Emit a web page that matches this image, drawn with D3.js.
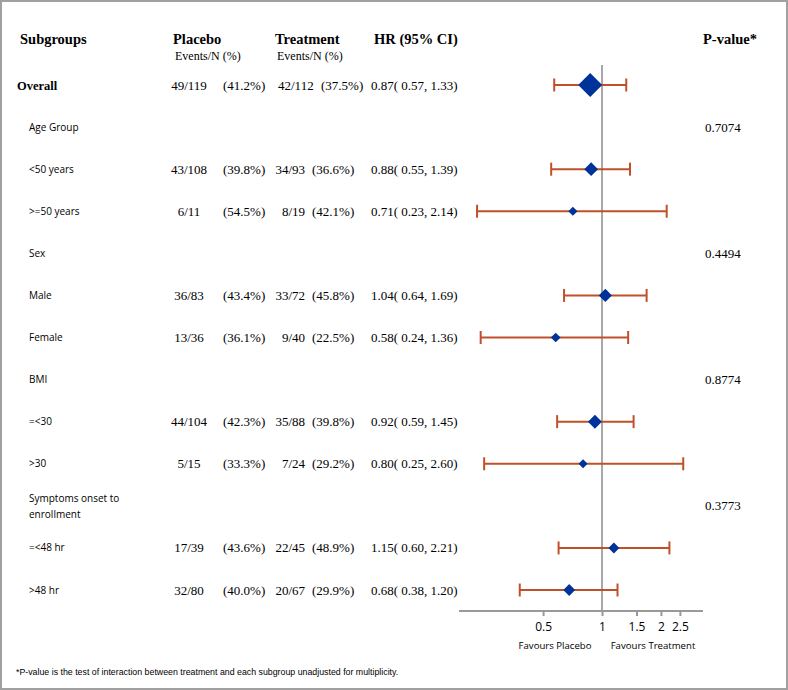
<!DOCTYPE html>
<html><head><meta charset="utf-8">
<script src="https://cdn.jsdelivr.net/npm/d3@7"></script>
<style>body{margin:0;background:#fff}svg{display:block}</style>
</head><body><div id="chart"></div>
<script>
// ---------- data ----------
const labels = ["Overall","Age Group","<50 years",">=50 years","Sex","Male","Female","BMI","=<30",">30","Symptoms onset to|enrollment","=<48 hr",">48 hr"];
const rowType = ["overall","group","sub","sub","group","sub","sub","group","sub","sub","group","sub","sub"];
const placeboEvents = [49,null,43,6,null,36,13,null,44,5,null,17,32];
const placeboN      = [119,null,108,11,null,83,36,null,104,15,null,39,80];
const placeboPct    = ["41.2",null,"39.8","54.5",null,"43.4","36.1",null,"42.3","33.3",null,"43.6","40.0"];
const treatEvents   = [42,null,34,8,null,33,9,null,35,7,null,22,20];
const treatN        = [112,null,93,19,null,72,40,null,88,24,null,45,67];
const treatPct      = ["37.5",null,"36.6","42.1",null,"45.8","22.5",null,"39.8","29.2",null,"48.9","29.9"];
const hr            = [0.87,null,0.88,0.71,null,1.04,0.58,null,0.92,0.80,null,1.15,0.68];
const ciLow         = [0.57,null,0.55,0.23,null,0.64,0.24,null,0.59,0.25,null,0.60,0.38];
const ciHigh        = [1.33,null,1.39,2.14,null,1.69,1.36,null,1.45,2.60,null,2.21,1.20];
const pValues       = [null,"0.7074",null,null,"0.4494",null,null,"0.8774",null,null,"0.3773",null,null];
const xTicks        = [0.5,1,1.5,2,2.5];
const footnote = "*P-value is the test of interaction between treatment and each subgroup unadjusted for multiplicity.";

// ---------- layout ----------
const W = 788, H = 690;
const serif = "'Liberation Serif','Times New Roman',serif";
const sans = "'Open Sans',Tahoma,sans-serif";
const arial = "'Liberation Sans',Arial,sans-serif";
const svg = d3.select("#chart").append("svg").attr("width",W).attr("height",H);

svg.append("rect").attr("x",1).attr("y",1).attr("width",W-2).attr("height",H-2)
  .attr("fill","#fff").attr("stroke","#a0a0a0").attr("stroke-width",2);

const y = d3.scalePoint().domain(d3.range(labels.length)).range([85, 590]);
const x = d3.scaleLog().domain([0.186, 3.28]).range([459, 703]);

// headers
const hdr = [["Subgroups",20],["Placebo",173],["Treatment",275],["HR (95% CI)",374],["P-value*",703]];
svg.selectAll(".hdr").data(hdr).join("text").attr("x",d=>d[1]).attr("y",44)
  .attr("font-family",serif).attr("font-weight","bold").attr("font-size",14.5).text(d=>d[0]);
svg.selectAll(".sub").data([175,277]).join("text").attr("x",d=>d).attr("y",60)
  .attr("font-family",serif).attr("font-size",12).text("Events/N (%)");

// rows
labels.forEach((lab,i)=>{
  const cy = y(i), t = rowType[i];
  if (t==="overall"){
    svg.append("text").attr("x",17).attr("y",cy+4.5).attr("font-family",serif).attr("font-weight","bold").attr("font-size",12.5).text(lab);
  } else {
    const parts = lab.split("|");
    const y0 = parts.length>1 ? cy-4 : cy+3.5;
    parts.forEach((p,k)=>svg.append("text").attr("x",29).attr("y",y0+k*16).attr("font-family",sans).attr("font-size",10).text(p));
  }
  if (placeboEvents[i]!=null){
    const g = svg.append("g").attr("font-family",serif).attr("font-size",13);
    const by = cy+4.5;
    g.append("text").attr("x",189).attr("y",by).attr("text-anchor","middle").text(placeboEvents[i]+"/"+placeboN[i]);
    g.append("text").attr("x",223).attr("y",by).text("("+placeboPct[i]+"%)");
    if (t==="overall"){
      g.append("text").attr("x",278).attr("y",by).text(treatEvents[i]+"/"+treatN[i]);
      g.append("text").attr("x",321).attr("y",by).text("("+treatPct[i]+"%)");
    } else {
      g.append("text").attr("x",305).attr("y",by).attr("text-anchor","end").text(treatEvents[i]+"/"+treatN[i]);
      g.append("text").attr("x",312).attr("y",by).text("("+treatPct[i]+"%)");
    }
    g.append("text").attr("x",371).attr("y",by)
      .text(hr[i].toFixed(2)+"( "+ciLow[i].toFixed(2)+", "+ciHigh[i].toFixed(2)+")");
  }
  if (pValues[i]!=null){
    svg.append("text").attr("x",705).attr("y",cy+4.5).attr("font-family",serif).attr("font-size",13).text(pValues[i]);
  }
});

// reference line
svg.append("line").attr("x1",x(1)).attr("x2",x(1)).attr("y1",65).attr("y2",611)
  .attr("stroke","#a8a8a8").attr("stroke-width",2);

// CIs and diamonds
const sizeScale = d3.scaleLinear().domain([12,80]).range([4.5,7]);
const idx = d3.range(labels.length).filter(i=>hr[i]!=null);
const ciCol = "#c0502a", dCol = "#003399";
idx.forEach(i=>{
  const cy = y(i);
  const g = svg.append("g");
  g.append("line").attr("x1",x(ciLow[i])).attr("x2",x(ciHigh[i])).attr("y1",cy).attr("y2",cy).attr("stroke",ciCol).attr("stroke-width",2);
  [ciLow[i],ciHigh[i]].forEach(v=>g.append("line").attr("x1",x(v)).attr("x2",x(v)).attr("y1",cy-6.5).attr("y2",cy+6.5).attr("stroke",ciCol).attr("stroke-width",2));
  const s = rowType[i]==="overall" ? 12 : sizeScale(placeboEvents[i]+treatEvents[i]);
  const cx = x(hr[i]);
  g.append("path").attr("d",`M${cx-s},${cy}L${cx},${cy-s}L${cx+s},${cy}L${cx},${cy+s}Z`).attr("fill",dCol);
});

// axis
const ax = svg.append("g").attr("transform","translate(0,611)")
  .call(d3.axisBottom(x).tickValues(xTicks).tickFormat(d3.format("")).tickSize(5).tickPadding(6));
ax.select(".domain").attr("stroke","#999").attr("stroke-width",2).attr("d","M459,0H703");
ax.selectAll(".tick line").attr("stroke","#999").attr("stroke-width",2);
ax.selectAll(".tick text").attr("font-family",sans).attr("font-size",12).attr("fill","#000");

svg.append("text").attr("x",555).attr("y",649).attr("text-anchor","middle").attr("font-family",sans).attr("font-size",9.6).text("Favours Placebo");
svg.append("text").attr("x",653).attr("y",649).attr("text-anchor","middle").attr("font-family",sans).attr("font-size",9.6).text("Favours Treatment");

svg.append("text").attr("x",16).attr("y",675).attr("font-family",arial).attr("font-size",8.8).text(footnote);
</script></body></html>
